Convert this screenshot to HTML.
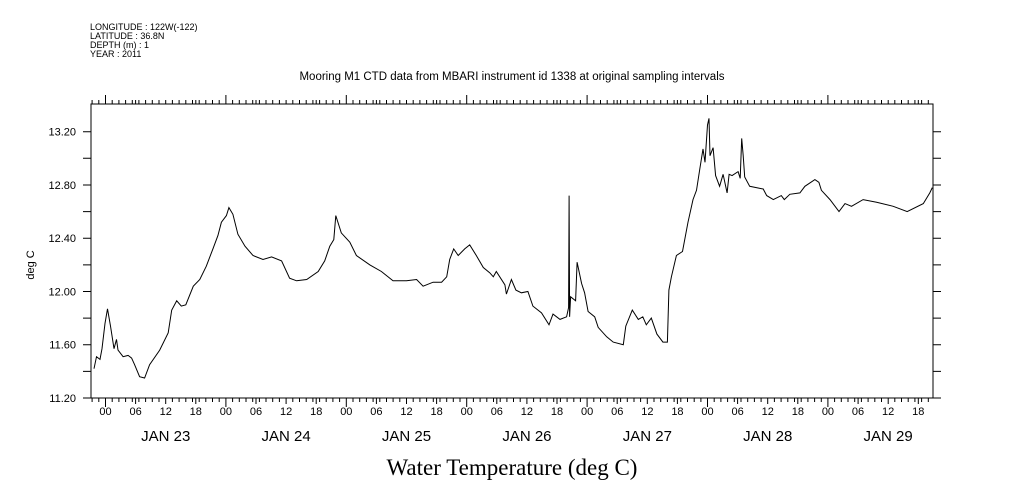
<!DOCTYPE html>
<html><head><meta charset="utf-8"><style>
body{margin:0;background:#fff;}
svg{display:block;font-family:"Liberation Sans",sans-serif;}
</style></head><body>
<svg id="chart" width="1009" height="504" viewBox="0 0 1009 504" xmlns="http://www.w3.org/2000/svg">
<g font-size="9" fill="#000">
<text x="90" y="30">LONGITUDE : 122W(-122)</text>
<text x="90" y="39">LATITUDE : 36.8N</text>
<text x="90" y="48">DEPTH (m) : 1</text>
<text x="90" y="57">YEAR : 2011</text>
</g>
<text x="512" y="80" font-size="11.5" text-anchor="middle">Mooring M1 CTD data from MBARI instrument id 1338 at original sampling intervals</text>
<text x="0" y="0" font-size="11" text-anchor="middle" transform="translate(34,265) rotate(-90)">deg C</text>
<text x="512" y="475" font-size="23" text-anchor="middle" font-family="Liberation Serif, serif">Water Temperature (deg C)</text>
<g id="axes"></g>
<path id="line" fill="none" stroke="#000" stroke-width="1"/>
</svg>
<script>
const hours=[-2.3,-1.8,-1.1,-0.7,-0.1,0.4,1.0,1.7,2.2,2.5,3.5,4.5,5.2,5.8,6.8,7.8,8.8,10.8,12.5,13.2,14.2,15.1,16.0,17.5,18.8,20.1,21.4,22.4,23.1,24.1,24.6,25.4,26.4,27.8,29.4,31.4,33.1,35.1,36.7,38.1,40.1,42.4,43.7,44.7,45.5,45.9,47.0,48.7,50.0,52.7,55.0,57.3,60.0,62.0,63.3,65.3,67.0,68.0,68.6,69.4,70.3,71.6,72.6,73.9,75.3,76.6,77.3,77.9,79.6,79.9,80.9,81.8,82.9,84.2,85.2,86.9,88.4,89.2,90.6,91.9,92.3,92.4,92.5,92.7,93.7,94.0,94.9,95.5,96.2,97.5,98.2,99.9,101.2,103.2,103.7,105.0,106.2,107.1,107.8,108.8,109.9,111.1,112.0,112.3,112.8,113.8,115.0,116.1,117.1,117.8,118.5,119.1,119.5,120.0,120.3,120.5,121.1,121.6,122.4,123.1,123.9,124.3,124.9,126.1,126.5,126.8,127.1,127.4,128.4,131.1,131.8,133.1,134.7,135.3,136.4,138.4,139.4,141.4,142.2,142.7,144.4,146.2,147.4,148.7,151.0,153.7,157.0,159.8,163.0,164.3,164.8];
const temps=[11.42,11.51,11.49,11.57,11.76,11.87,11.74,11.57,11.64,11.56,11.51,11.52,11.50,11.45,11.36,11.35,11.45,11.56,11.69,11.86,11.93,11.89,11.90,12.04,12.09,12.19,12.32,12.42,12.52,12.57,12.63,12.58,12.43,12.34,12.27,12.24,12.26,12.23,12.10,12.08,12.09,12.15,12.23,12.34,12.39,12.57,12.44,12.37,12.27,12.20,12.15,12.08,12.08,12.09,12.04,12.07,12.07,12.11,12.24,12.32,12.27,12.32,12.35,12.27,12.18,12.14,12.11,12.15,12.05,11.98,12.09,12.01,11.99,12.00,11.89,11.84,11.75,11.83,11.79,11.81,11.88,12.72,11.81,11.96,11.93,12.22,12.06,11.99,11.85,11.81,11.73,11.66,11.62,11.60,11.74,11.86,11.79,11.81,11.75,11.80,11.68,11.62,11.62,12.01,12.11,12.27,12.30,12.52,12.69,12.76,12.93,13.07,12.97,13.25,13.30,13.02,13.08,12.87,12.79,12.88,12.74,12.88,12.87,12.90,12.85,13.15,13.02,12.86,12.79,12.77,12.72,12.69,12.72,12.69,12.73,12.74,12.79,12.84,12.82,12.76,12.69,12.60,12.66,12.64,12.69,12.67,12.64,12.60,12.66,12.74,12.78];
const yTickLabels=["11.20","11.60","12.00","12.40","12.80","13.20"];
const dayLabels=["JAN 23","JAN 24","JAN 25","JAN 26","JAN 27","JAN 28","JAN 29"];
const hourLabels=["00","06","12","18"];

const L=91,R=933,T=104,B=398;
const X0=105.5,PXH=5.017;
const x=h=>X0+h*PXH;
const y=v=>B-(v-11.2)*(B-131.7)/2.0;
const NS="http://www.w3.org/2000/svg";
const ax=document.getElementById('axes');
function mk(tag,attrs){const e=document.createElementNS(NS,tag);for(const k in attrs)e.setAttribute(k,attrs[k]);ax.appendChild(e);return e;}
let d=`M${L},${T}H${R}V${B}H${L}Z`;
const hMin=(L-X0)/PXH,hMax=(R-X0)/PXH;
const step=4/3;
for(let h=Math.ceil(hMin/step)*step;h<=hMax;h+=step){const px=x(h).toFixed(1);d+=`M${px},${B}v4M${px},${T}v-4`;}
for(let h=Math.ceil(hMin/6)*6;h<=hMax;h+=6){const px=x(h).toFixed(1);const big=(h%24===0);d+=`M${px},${B}v${big?9:6}M${px},${T}v${big?-9:-4}`;}
for(let v=11.2;v<=13.31;v+=0.2){const py=y(v).toFixed(1);d+=`M${L},${py}h-8M${R},${py}h8`;}
const frame=mk('path',{d:d,stroke:'#000','stroke-width':1,fill:'none'});


yTickLabels.forEach((t,i)=>{const e=mk('text',{x:76,y:y(11.2+0.4*i)+4,'font-size':11,'text-anchor':'end'});e.textContent=t;

});
for(let h=Math.ceil(hMin/6)*6;h<=hMax;h+=6){const lab=hourLabels[((h/6)%4+4)%4];const e=mk('text',{x:x(h),y:415,'font-size':11,'text-anchor':'middle'});e.textContent=lab;

}
dayLabels.forEach((t,i)=>{const e=mk('text',{x:x(i*24+12),y:441,'font-size':15,'text-anchor':'middle'});e.textContent=t;

});
document.getElementById('line').setAttribute('d',hours.map((h,i)=>(i?'L':'M')+x(h).toFixed(1)+','+y(temps[i]).toFixed(1)).join(''));
</script>
</body></html>
